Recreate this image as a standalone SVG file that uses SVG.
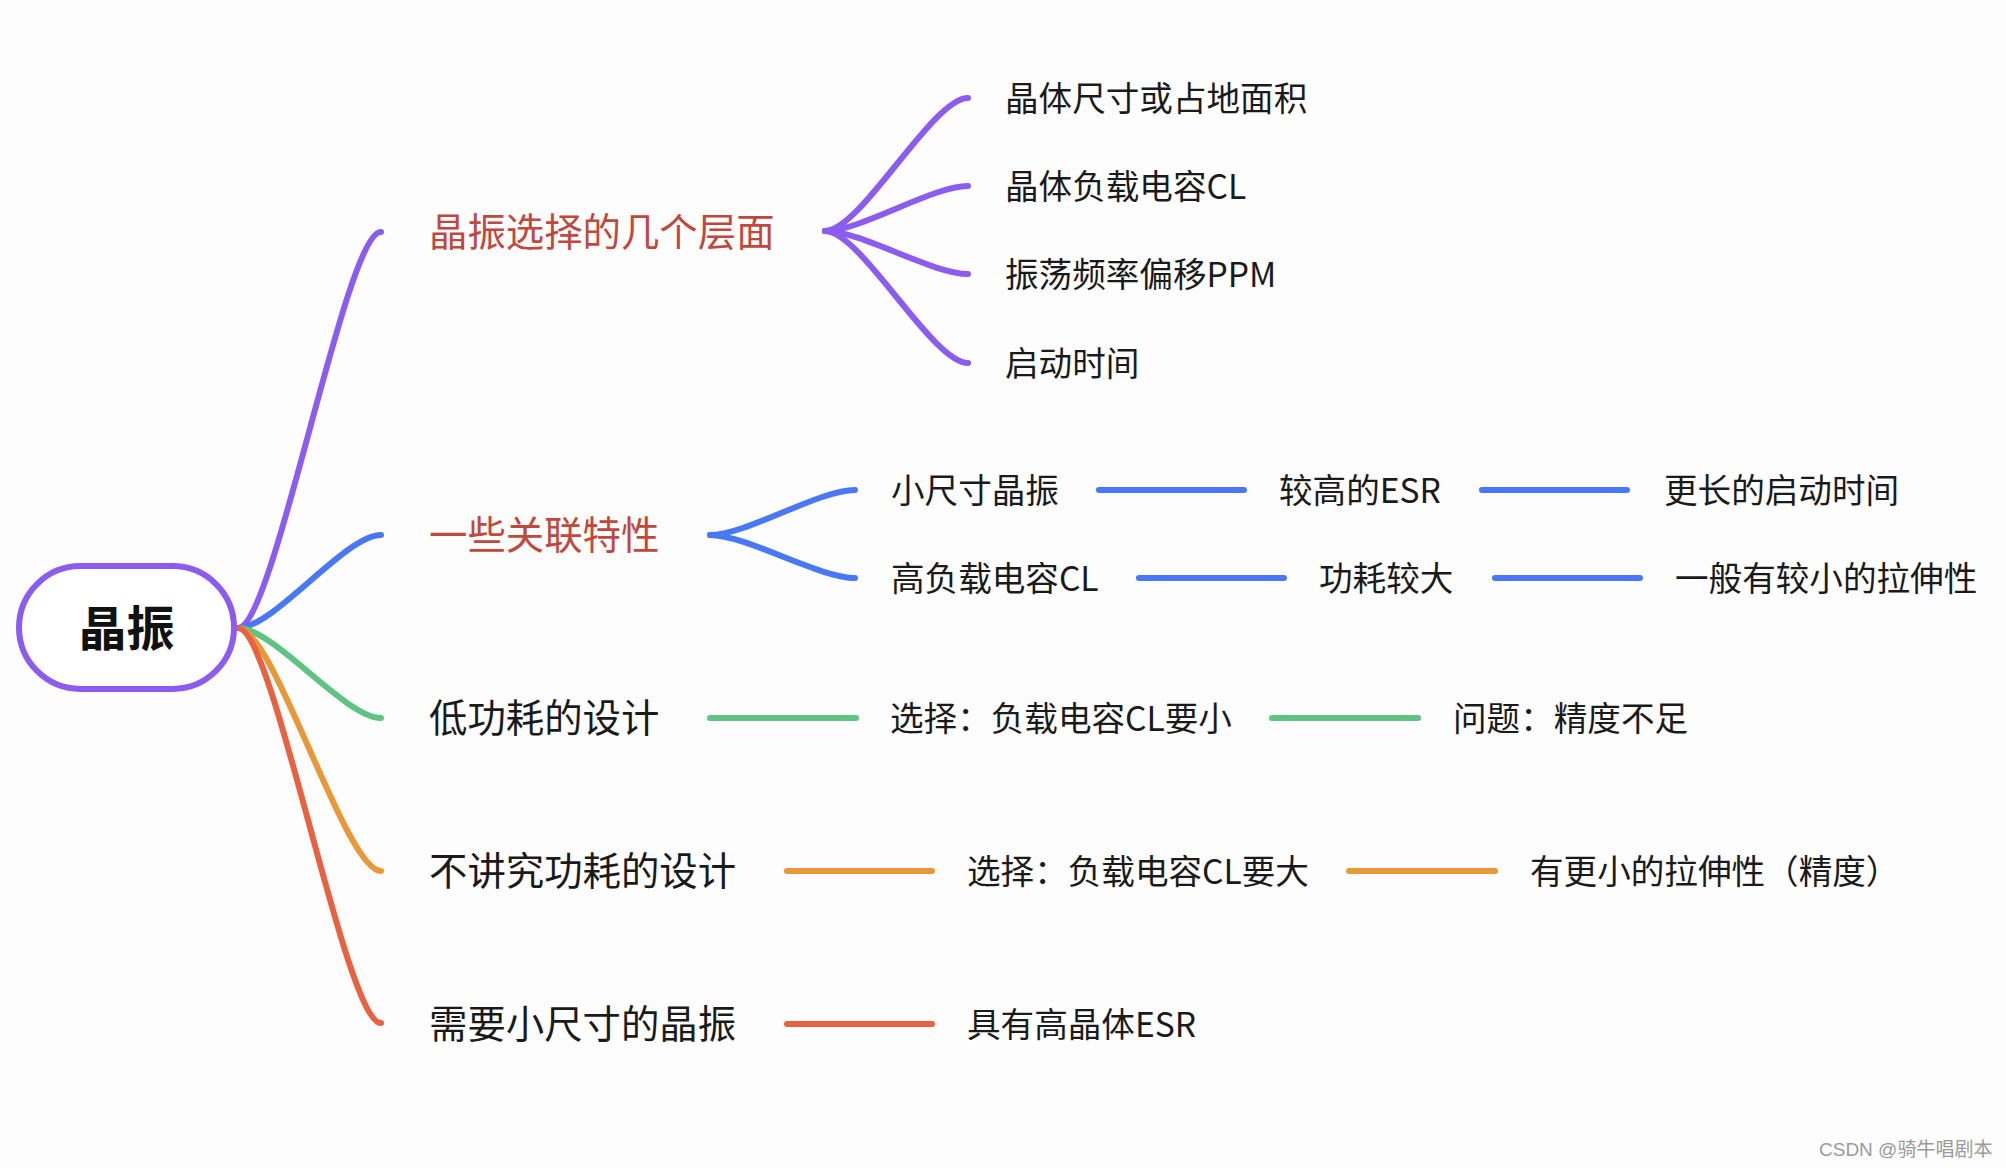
<svg xmlns="http://www.w3.org/2000/svg" width="2006" height="1168" viewBox="0 0 2006 1168">
<style>
  .t1{font-family:"Noto Sans CJK SC","Noto Sans",sans-serif;font-size:38.4px;fill:#1a1a1a}
  .t1r{font-family:"Noto Sans CJK SC","Noto Sans",sans-serif;font-size:38.4px;fill:#c0483c}
  .t2{font-family:"Noto Sans CJK SC","Noto Sans",sans-serif;font-size:33.6px;fill:#1a1a1a}
  .c{fill:none;stroke-width:6;stroke-linecap:round}
  .pu{stroke:#8b5cef}.bl{stroke:#4878f5}.gr{stroke:#5fc382}.or{stroke:#e89838}.rd{stroke:#e86140}
</style>
<rect x="0" y="0" width="2006" height="1168" fill="#fdfdfd"/>
<g id="connectors">
  <path class="c pu" d="M238,628 C274,628 345,232 381,232"/>
  <path class="c bl" d="M238,628 C274,628 345,535 381,535"/>
  <path class="c gr" d="M238,628 C274,628 345,718 381,718"/>
  <path class="c or" d="M238,628 C274,628 345,871 381,871"/>
  <path class="c rd" d="M238,628 C274,628 345,1023 381,1023"/>
  <path class="c pu" d="M825,231 C861,231 932,98 968,98"/>
  <path class="c pu" d="M825,231 C861,231 932,186 968,186"/>
  <path class="c pu" d="M825,231 C861,231 932,274 968,274"/>
  <path class="c pu" d="M825,231 C861,231 932,363 968,363"/>
  <path class="c bl" d="M710,535 C746,535 819,490 855,490"/>
  <path class="c bl" d="M710,535 C746,535 819,578 855,578"/>
  <path class="c bl" d="M1099,490 H1244"/>
  <path class="c bl" d="M1482,490 H1627"/>
  <path class="c bl" d="M1139,578 H1284"/>
  <path class="c bl" d="M1495,578 H1640"/>
  <path class="c gr" d="M710,718 H856"/>
  <path class="c gr" d="M1272,718 H1418"/>
  <path class="c or" d="M787,871 H932"/>
  <path class="c or" d="M1349,871 H1495"/>
  <path class="c rd" d="M787,1024 H932"/>
</g>
<g id="root">
  <rect x="19" y="566" width="215" height="123" rx="61.5" fill="#ffffff" stroke="#8b5cef" stroke-width="6"/>
  <text x="126.5" y="646" text-anchor="middle" font-family="Noto Sans CJK SC, sans-serif" font-size="48" font-weight="bold" fill="#111">晶振</text>
</g>
<g id="n-select"><text class="t1r" x="429" y="246">晶振选择的几个层面</text></g>
<g id="n-size"><text class="t2" x="1005" y="111">晶体尺寸或占地面积</text></g>
<g id="n-cl"><text class="t2" x="1005" y="199">晶体负载电容CL</text></g>
<g id="n-ppm"><text class="t2" x="1005" y="287">振荡频率偏移PPM</text></g>
<g id="n-start"><text class="t2" x="1005" y="376">启动时间</text></g>
<g id="n-related"><text class="t1r" x="429" y="549">一些关联特性</text></g>
<g id="n-small"><text class="t2" x="891" y="503">小尺寸晶振</text></g>
<g id="n-esr"><text class="t2" x="1279" y="503">较高的ESR</text></g>
<g id="n-longer"><text class="t2" x="1664" y="503">更长的启动时间</text></g>
<g id="n-highcl"><text class="t2" x="891" y="591">高负载电容CL</text></g>
<g id="n-power"><text class="t2" x="1319" y="591">功耗较大</text></g>
<g id="n-pull"><text class="t2" x="1675" y="591">一般有较小的拉伸性</text></g>
<g id="n-low"><text class="t1" x="429" y="732">低功耗的设计</text></g>
<g id="n-sel-small"><text class="t2" x="890" y="731">选择：负载电容CL要小</text></g>
<g id="n-issue"><text class="t2" x="1453" y="731">问题：精度不足</text></g>
<g id="n-nolow"><text class="t1" x="429" y="885">不讲究功耗的设计</text></g>
<g id="n-sel-big"><text class="t2" x="967" y="884">选择：负载电容CL要大</text></g>
<g id="n-smaller"><text class="t2" x="1530" y="884">有更小的拉伸性（精度）</text></g>
<g id="n-need"><text class="t1" x="429" y="1038">需要小尺寸的晶振</text></g>
<g id="n-highesr"><text class="t2" x="967" y="1037">具有高晶体ESR</text></g>
<text x="1819" y="1156" font-family="Liberation Sans, Noto Sans CJK SC, sans-serif" font-size="19" fill="#9a9a9a">CSDN @骑牛唱剧本</text>
</svg>
